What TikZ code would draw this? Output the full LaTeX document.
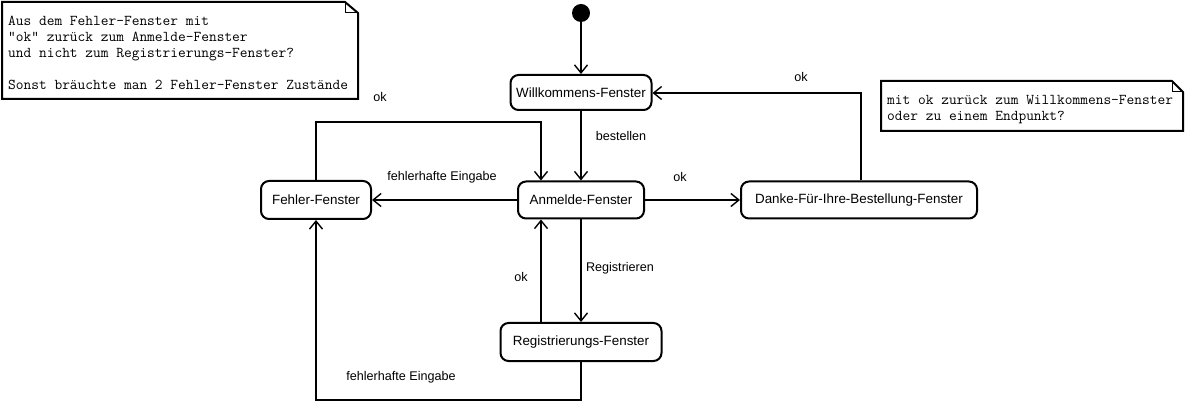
\documentclass[tikz,border=0pt]{standalone}
\usepackage{fontspec}
\setmainfont{Liberation Sans}
\usetikzlibrary{arrows.meta}
\tikzset{
  statebox/.style={draw, line width=2pt, rounded corners=8pt, font=\fontsize{13.4}{15}\selectfont, inner sep=0pt},
  trans/.style={draw, line width=2pt, -{Straight Barb[length=8pt,width=13pt,line width=1.4pt]}},
  lbl/.style={font=\fontsize{12.6}{14}\selectfont, inner sep=0pt},
  noteframe/.style={draw, line width=2pt, line join=miter},
  notefold/.style={draw, line width=1pt},
  notetext/.style={font=\ttfamily\fontsize{15}{16}\selectfont, align=left, anchor=north west, inner sep=0pt},
}
\begin{document}
\begin{tikzpicture}[x=1pt,y=-1pt]
\useasboundingbox (0,0) rectangle (1186,403);
% notes
\draw[noteframe] (2,2) -- (345,2) -- (358,13) -- (358,99) -- (2,99) -- cycle;
\draw[notefold] (345,2) -- (345,13) -- (358,13);
\node[notetext] (n1) at (8,16) {Aus dem Fehler-Fenster mit\\"ok" zurück zum Anmelde-Fenster\\und nicht zum Registrierungs-Fenster?\\[16pt]Sonst bräuchte man 2 Fehler-Fenster Zustände};
\draw[noteframe] (881,81) -- (1172,81) -- (1183,92) -- (1183,131) -- (881,131) -- cycle;
\draw[notefold] (1172,81) -- (1172,92) -- (1183,92);
\node[notetext] (n2) at (887,95) {mit ok zurück zum Willkommens-Fenster\\oder zu einem Endpunkt?};
% states
\node[circle, fill=black, minimum size=18pt, inner sep=0pt] (init) at (581,13) {};
\node[statebox, minimum width=141pt, minimum height=35pt] (will) at (581,92.5) {Willkommens-Fenster};
\node[statebox, minimum width=126pt, minimum height=37pt] (anm) at (581,200) {Anmelde-Fenster};
\node[statebox, minimum width=110pt, minimum height=38pt] (feh) at (316,200) {Fehler-Fenster};
\node[statebox, minimum width=161pt, minimum height=38pt] (reg) at (581,342) {Registrierungs-Fenster};
\node[statebox, minimum width=236pt, minimum height=37pt] (dank) at (859,200) {Danke-Für-Ihre-Bestellung-Fenster};
% bend points
\coordinate (c1) at (316,122);
\coordinate (c2) at (541,122);
\coordinate (c3) at (861,93);
\coordinate (c4) at (581,400);
\coordinate (c5) at (316,400);
% transitions
\draw[trans] (init) -- (will);
\draw[trans] (will) -- (anm);
\draw[trans] (anm) -- (feh);
\draw[trans] (anm) -- (dank);
\draw[trans] (anm.south) -- (reg.north);
\draw[trans] (reg.north -| c2) -- (anm.south -| c2);
\draw[trans] (feh.north) -- (c1) -- (c2) -- (anm.north -| c2);
\draw[trans] (dank.north -| c3) -- (c3) -- (will.east |- c3);
\draw[trans] (reg.south) -- (c4) -- (c5) -- (feh.south);
% labels
\node[lbl] (l1) at (621,136) {bestellen};
\node[lbl] (l2) at (380,97) {ok};
\node[lbl] (l3) at (442,177) {fehlerhafte Eingabe};
\node[lbl] (l4) at (680,177) {ok};
\node[lbl] (l5) at (801,77) {ok};
\node[lbl] (l6) at (620,268) {Registrieren};
\node[lbl] (l7) at (521,277) {ok};
\node[lbl] (l8) at (401,377) {fehlerhafte Eingabe};
\end{tikzpicture}
\end{document}
